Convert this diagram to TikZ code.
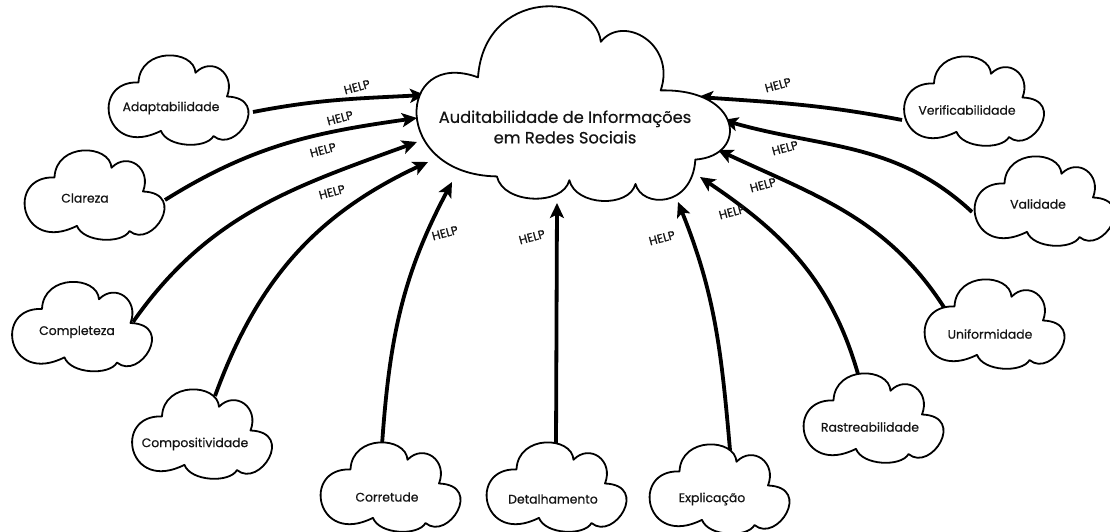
\documentclass[tikz,border=0pt]{standalone}
\usepackage{fontspec}
\setmainfont{Poppins}[FakeBold=0.6]
\usetikzlibrary{arrows.meta}
\definecolor{ink}{HTML}{141414}
\tikzset{
  cbox/.style={minimum width=150pt,minimum height=88pt,inner sep=0pt,outer sep=0pt},
  mbox/.style={minimum width=315pt,minimum height=187pt,inner sep=0pt,outer sep=0pt},
  ctext/.style={text=ink,inner sep=0pt,font=\fontsize{12.4}{14}\selectfont},
  mtext/.style={text=ink,inner sep=0pt,align=center,font=\fontsize{16.3}{20.5}\selectfont},
  help/.style={text=ink,inner sep=0pt,rotate=15,font=\fontsize{12}{13}\selectfont},
  cloudline/.style={draw=black,line width=1.8pt,line join=round,fill=white},
  conn/.style={draw=black,line width=3.8pt,-{Stealth[length=15pt,width=14pt,inset=3.5pt]}}
}
\newcommand{\drawsmallcloud}[1]{%
  \begin{scope}[shift={(#1.south west)},x=150pt,y=88pt]
    \draw[cloudline] (0.23,0.70) .. controls (-0.1,0.72) and (0.0,-0.18) .. (0.38,0.15)
      .. controls (0.42,-0.04) and (0.68,-0.06) .. (0.73,0.09)
      .. controls (0.88,-0.12) and (1.12,0.52) .. (0.82,0.54)
      .. controls (0.88,0.8) and (0.72,1.0) .. (0.61,0.81)
      .. controls (0.6,1.08) and (0.24,1.1) .. (0.23,0.70) -- cycle;
  \end{scope}}
\newcommand{\drawmaincloud}[1]{%
  \begin{scope}[shift={(#1.south west)},x=315pt,y=187pt]
    \draw[cloudline] (0.20,0.64) .. controls (-0.06,0.80) and (-0.08,0.12) .. (0.26,0.11)
      .. controls (0.28,-0.04) and (0.47,-0.05) .. (0.49,0.09)
      .. controls (0.51,-0.05) and (0.68,-0.06) .. (0.70,0.07)
      .. controls (0.72,-0.06) and (0.88,-0.06) .. (0.89,0.20)
      .. controls (1.06,0.22) and (1.04,0.58) .. (0.78,0.57)
      .. controls (0.83,0.82) and (0.66,0.98) .. (0.59,0.83)
      .. controls (0.57,1.1) and (0.22,1.12) .. (0.20,0.64) -- cycle;
  \end{scope}}
\begin{document}
\begin{tikzpicture}[x=1pt,y=1pt]
\useasboundingbox (0,0) rectangle (1110,531);
% boxes
\node[mbox] (main) at (572.5,427.5) {};
\node[cbox] (adap) at (179,431) {};
\node[cbox] (clar) at (95,336) {};
\node[cbox] (comp) at (82.5,204.5) {};
\node[cbox] (cmpo) at (202.5,97) {};
\node[cbox] (corr) at (391,44) {};
\node[cbox] (deta) at (557,44) {};
\node[cbox] (expl) at (720,42) {};
\node[cbox] (rast) at (874,113) {};
\node[cbox] (unif) at (995,207) {};
\node[cbox] (vali) at (1045,330) {};
\node[cbox] (veri) at (974.5,430) {};
% connectors
\draw[conn] ([shift={(74,-12)}]adap.center) to[out=11,in=183] ([shift={(-147.5,8.5)}]main.center);
\draw[conn] ([shift={(70,-5)}]clar.center) to[out=32,in=188] ([shift={(-155.5,-14.5)}]main.center);
\draw[conn] ([shift={(50.5,4.5)}]comp.center) to[out=55,in=200] ([shift={(-155.5,-38.5)}]main.center);
\draw[conn] ([shift={(12.5,38)}]cmpo.center) to[out=70,in=205] ([shift={(-144.5,-58.5)}]main.center);
\draw[conn] ([shift={(-9,42)}]corr.center) to[out=86,in=242] ([shift={(-120.5,-78.5)}]main.center);
\draw[conn] ([shift={(-1,42)}]deta.center) -- ([shift={(-15.5,-99.5)}]main.center);
\draw[conn] ([shift={(10,39)}]expl.center) to[out=95,in=292] ([shift={(105.5,-98.5)}]main.center);
\draw[conn] ([shift={(-16,44)}]rast.center) to[out=106,in=326] ([shift={(127.5,-73.5)}]main.center);
\draw[conn] ([shift={(-48,12)}]unif.center) to[out=122,in=335] ([shift={(145.5,-46.5)}]main.center);
\draw[conn] ([shift={(-73,-11)}]vali.center) to[out=137,in=344] ([shift={(150.5,-16.5)}]main.center);
\draw[conn] ([shift={(-72.5,-19)}]veri.center) to[out=169,in=356] ([shift={(125.5,6.5)}]main.center);
% clouds
\drawmaincloud{main}
\drawsmallcloud{adap}
\drawsmallcloud{clar}
\drawsmallcloud{comp}
\drawsmallcloud{cmpo}
\drawsmallcloud{corr}
\drawsmallcloud{deta}
\drawsmallcloud{expl}
\drawsmallcloud{rast}
\drawsmallcloud{unif}
\drawsmallcloud{vali}
\drawsmallcloud{veri}
% texts
\node[mtext] (main-t) at (565,404) {Auditabilidade de Informações\\em Redes Sociais};
\node[ctext] (adap-t) at (171,423) {Adaptabilidade};
\node[ctext] (clar-t) at (85,333) {Clareza};
\node[ctext] (comp-t) at (77,199) {Completeza};
\node[ctext] (cmpo-t) at (195,87) {Compositividade};
\node[ctext] (corr-t) at (387,34) {Corretude};
\node[ctext] (deta-t) at (553,32) {Detalhamento};
\node[ctext] (expl-t) at (712,32) {Explicação};
\node[ctext] (rast-t) at (870,104) {Rastreabilidade};
\node[ctext] (unif-t) at (990,197) {Uniformidade};
\node[ctext] (vali-t) at (1038,327) {Validade};
\node[ctext] (veri-t) at (967,421) {Verificabilidade};
% HELP labels
\node[help] (h1) at (357,444) {HELP};
\node[help] (h2) at (340,413) {HELP};
\node[help] (h3) at (323,381) {HELP};
\node[help] (h4) at (332,339) {HELP};
\node[help] (h5) at (445,298) {HELP};
\node[help] (h6) at (532,294) {HELP};
\node[help] (h7) at (662,293) {HELP};
\node[help] (h8) at (732,319) {HELP};
\node[help] (h9) at (763,346) {HELP};
\node[help] (h10) at (785,383) {HELP};
\node[help] (h11) at (778,446) {HELP};
\end{tikzpicture}
\end{document}
